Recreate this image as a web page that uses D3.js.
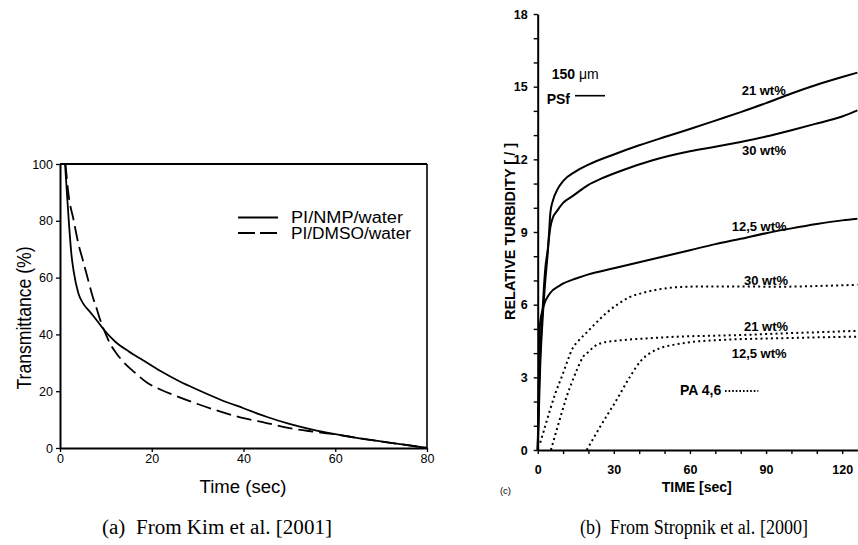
<!DOCTYPE html>
<html><head><meta charset="utf-8">
<script src="https://cdn.jsdelivr.net/npm/d3@7"></script>
<style>
body{margin:0;background:#fff;}
svg{display:block;}
text{fill:#000;}
</style></head>
<body>
<svg id="c" width="858" height="545"></svg>
<script>
// ---------- Panel (a): Kim et al. ----------
const nmpTime = [1.1,1.5,2,2.5,3,4,5,6.5,8,9.4,12,15,18,22,26,30,35,40,45,50,55,60,65,70,75,80];
const nmpVal  = [100,90,78,68,62,54.5,51,48,45,42,37.5,34,31,27,23.5,20.5,17,14,11,8.5,6.5,4.9,3.5,2.3,1.2,0];
const dmsoTime = [1.2,1.8,3,4,5,6,7,8,9,10,11,12,14,16,19,22,25,30,35,40,45,50,55,60,65,70,75,80];
const dmsoVal  = [100,90,80,72,66,60,54,49,44,40,36.5,34,30,27,23,20.5,18.5,15.5,12.8,10.5,8.8,7,5.8,4.8,3.5,2.3,1.2,0];
const leftXTicks = [0,20,40,60,80];
const leftYTicks = [0,20,40,60,80,100];
const leftSeries = ["PI/NMP/water","PI/DMSO/water"];

// ---------- Panel (b): Stropnik et al. ----------
const psf21Time = [0,1,2,3,4,4.5,5,6,8,10,15,20,30,40,50,60,70,80,90,100,110,120,126];
const psf21Val  = [0,3.5,5.5,7,8.2,9,9.8,10.3,10.8,11.1,11.5,11.78,12.2,12.58,12.92,13.25,13.6,13.95,14.32,14.72,15.08,15.4,15.58];
const psf30Time = [0,0.5,1,1.6,2.5,3,4,4.5,5,6,7.5,10,14,20,25,34,45,60,70,80,90,100,110,120,126];
const psf30Val  = [0,2.5,4,5.2,6.8,7.5,8.3,8.8,9.2,9.6,9.85,10.2,10.5,10.95,11.2,11.57,11.95,12.33,12.52,12.72,12.94,13.2,13.48,13.77,14.02];
const psf125Time = [0,0.5,0.9,2.2,4.85,8.8,15.4,20,30,40,50,60,70,80,90,100,110,120,126];
const psf125Val  = [0,3,5.2,5.9,6.47,6.8,7.09,7.25,7.5,7.75,8.0,8.25,8.5,8.72,8.95,9.15,9.33,9.48,9.55];
const pa30Time = [1,3,5,7,9.5,12,13.5,16,19,23,27,32,36,42,47,55,65,80,95,110,126];
const pa30Val  = [0.3,1,1.7,2.35,3.03,3.75,4.15,4.5,4.82,5.25,5.65,6.05,6.3,6.5,6.62,6.72,6.75,6.75,6.74,6.77,6.82];
const pa21Time = [5.2,7.5,9.5,11.4,13.5,15.4,18,20,22,25,30,35,45,55,70,81,98,110,126];
const pa21Val  = [0,0.83,1.55,2.2,2.8,3.3,3.86,4.05,4.25,4.41,4.5,4.55,4.62,4.68,4.72,4.75,4.82,4.86,4.92];
const pa125Time = [19.3,24.6,31.1,36.4,41,44.3,48,53.4,60,73.2,85,97.9,110,126];
const pa125Val  = [0,0.96,2.07,3.03,3.72,4.0,4.2,4.34,4.45,4.55,4.59,4.62,4.65,4.68];
const rightXTicks = [0,10,20,30,40,50,60,70,80,90,100,110,120];
const rightXLabels = [0,30,60,90,120];
const rightYTicks = [0,1,2,3,4,5,6,7,8,9,10,11,12,13,14,15,16,17,18];
const rightYLabels = [0,3,6,9,12,15,18];
const curveLabels = ["21 wt%","30 wt%","12,5 wt%","30 wt%","21 wt%","12,5 wt%"];
const captions = ["(a)  From Kim et al. [2001]","(b)  From Stropnik et al. [2000]"];

const svg = d3.select("#c");
const SANS = "'Liberation Sans', Arial, sans-serif";
const SERIF = "'Liberation Serif', 'Times New Roman', serif";
const zip = (a,b)=>a.map((t,i)=>[t,b[i]]);

// ===== Left panel =====
const xL = d3.scaleLinear().domain([0,80]).range([60,427]);
const yL = d3.scaleLinear().domain([0,100]).range([448,164]);
const gL = svg.append("g");

// frame top/right
gL.append("line").attr("x1",xL(0)).attr("x2",xL(80)).attr("y1",yL(100)).attr("y2",yL(100)).attr("stroke","#000").attr("stroke-width",2);
gL.append("line").attr("x1",xL(80)).attr("x2",xL(80)).attr("y1",yL(100)).attr("y2",yL(0)).attr("stroke","#000").attr("stroke-width",1.6);

const axL = gL.append("g").attr("transform",`translate(0,${yL(0)})`)
  .call(d3.axisBottom(xL).tickValues(leftXTicks).tickSize(4).tickPadding(2).tickSizeOuter(0));
const ayL = gL.append("g").attr("transform",`translate(${xL(0)},0)`)
  .call(d3.axisLeft(yL).tickValues(leftYTicks).tickSize(4).tickPadding(3).tickSizeOuter(0));
[axL,ayL].forEach(a=>{
  a.select(".domain").attr("stroke-width",2);
  a.selectAll(".tick line").attr("stroke-width",1.3);
  a.selectAll("text").attr("font-family",SANS).attr("font-size",12.5);
});

const lineL = d3.line().x(d=>xL(d[0])).y(d=>yL(d[1])).curve(d3.curveMonotoneX);
gL.append("path").attr("d",lineL(zip(nmpTime,nmpVal))).attr("fill","none").attr("stroke","#000").attr("stroke-width",1.8);
gL.append("path").attr("d",lineL(zip(dmsoTime,dmsoVal))).attr("fill","none").attr("stroke","#000").attr("stroke-width",1.8).attr("stroke-dasharray","15,6");

// legend
const legY = [217.5,233];
leftSeries.forEach((s,i)=>{
  gL.append("line").attr("x1",238).attr("x2",278).attr("y1",legY[i]).attr("y2",legY[i])
    .attr("stroke","#000").attr("stroke-width",1.8).attr("stroke-dasharray",i?"17,5":null);
  gL.append("text").attr("x",291).attr("y",legY[i]).attr("dy","0.36em")
    .attr("font-family",SANS).attr("font-size",16).attr("textLength",i?120:112).attr("lengthAdjust","spacingAndGlyphs").text(s);
});
gL.append("text").attr("x",243).attr("y",487).attr("dy","0.36em").attr("text-anchor","middle")
  .attr("font-family",SANS).attr("font-size",18).attr("textLength",87).attr("lengthAdjust","spacingAndGlyphs").text("Time (sec)");
gL.append("text").attr("transform","translate(31,318) rotate(-90)").attr("text-anchor","middle")
  .attr("font-family",SANS).attr("font-size",21).attr("textLength",143).attr("lengthAdjust","spacingAndGlyphs").text("Transmittance (%)");

// ===== Right panel =====
const xR = d3.scaleLinear().domain([0,126]).range([537.7,857.4]);
const yR = d3.scaleLinear().domain([0,18]).range([450,14]);
const gR = svg.append("g");
const axR = gR.append("g").attr("transform",`translate(0,${yR(0)})`)
  .call(d3.axisBottom(xR).tickValues(rightXTicks).tickSize(4).tickPadding(11).tickSizeOuter(0)
     .tickFormat(d=>rightXLabels.includes(d)?d:""));
const ayR = gR.append("g").attr("transform",`translate(${xR(0)},0)`)
  .call(d3.axisLeft(yR).tickValues(rightYTicks).tickSize(4).tickPadding(6).tickSizeOuter(0)
     .tickFormat(d=>rightYLabels.includes(d)?d:""));
[axR,ayR].forEach(a=>{
  a.select(".domain").attr("stroke-width",2);
  a.selectAll(".tick line").attr("stroke-width",1.4);
  a.selectAll("text").attr("font-family",SANS).attr("font-size",12.5).attr("font-weight","bold");
});

const lineR = d3.line().x(d=>xR(d[0])).y(d=>yR(d[1])).curve(d3.curveMonotoneX);
[[psf21Time,psf21Val],[psf30Time,psf30Val],[psf125Time,psf125Val]].forEach(s=>{
  gR.append("path").attr("d",lineR(zip(s[0],s[1]))).attr("fill","none").attr("stroke","#000").attr("stroke-width",2);
});
[[pa30Time,pa30Val],[pa21Time,pa21Val],[pa125Time,pa125Val]].forEach(s=>{
  gR.append("path").attr("d",lineR(zip(s[0],s[1]))).attr("fill","none").attr("stroke","#000").attr("stroke-width",2).attr("stroke-dasharray","2,3.2");
});

// curve labels
const labPos = [[741.7,90.7],[742,150],[731.7,226.7],[744,280],[744,326.7],[731.7,353.3]];
curveLabels.forEach((t,i)=>{
  gR.append("text").attr("x",labPos[i][0]).attr("y",labPos[i][1]).attr("dy","0.36em")
    .attr("font-family",SANS).attr("font-size",13).attr("font-weight","bold").text(t);
});
gR.append("text").attr("x",551.7).attr("y",74).attr("dy","0.36em").attr("font-family",SANS).attr("font-size",14).attr("font-weight","bold")
  .text("150 ").append("tspan").attr("font-weight","normal").text("\u03bcm");
gR.append("text").attr("x",546.7).attr("y",99.3).attr("dy","0.36em").attr("font-family",SANS).attr("font-size",14).attr("font-weight","bold").text("PSf");
gR.append("line").attr("x1",575).attr("x2",605).attr("y1",95.7).attr("y2",95.7).attr("stroke","#000").attr("stroke-width",1.6);
gR.append("text").attr("x",680).attr("y",390).attr("dy","0.36em").attr("font-family",SANS).attr("font-size",14).attr("font-weight","bold").text("PA 4,6");
gR.append("line").attr("x1",725).attr("x2",758.3).attr("y1",391).attr("y2",391).attr("stroke","#000").attr("stroke-width",1.8).attr("stroke-dasharray","1.6,2");

gR.append("text").attr("x",696.7).attr("y",487.3).attr("dy","0.36em").attr("text-anchor","middle")
  .attr("font-family",SANS).attr("font-size",14).attr("font-weight","bold").text("TIME [sec]");
gR.append("text").attr("transform","translate(514.5,231.5) rotate(-90)").attr("text-anchor","middle")
  .attr("font-family",SANS).attr("font-size",15).attr("font-weight","bold").attr("textLength",177).attr("lengthAdjust","spacingAndGlyphs")
  .text("RELATIVE TURBIDITY [ / ]");
gR.append("text").attr("x",505.5).attr("y",491).attr("dy","0.36em").attr("text-anchor","middle")
  .attr("font-family",SANS).attr("font-size",9.5).text("(c)");

// captions
const capX = [217,694], capW = [230,228];
captions.forEach((c,i)=>{
  svg.append("text").attr("x",capX[i]).attr("y",534).attr("text-anchor","middle")
    .attr("font-family",SERIF).attr("font-size",20.5).attr("textLength",capW[i]).attr("lengthAdjust","spacingAndGlyphs")
    .attr("xml:space","preserve").text(c);
});
</script>
</body></html>
